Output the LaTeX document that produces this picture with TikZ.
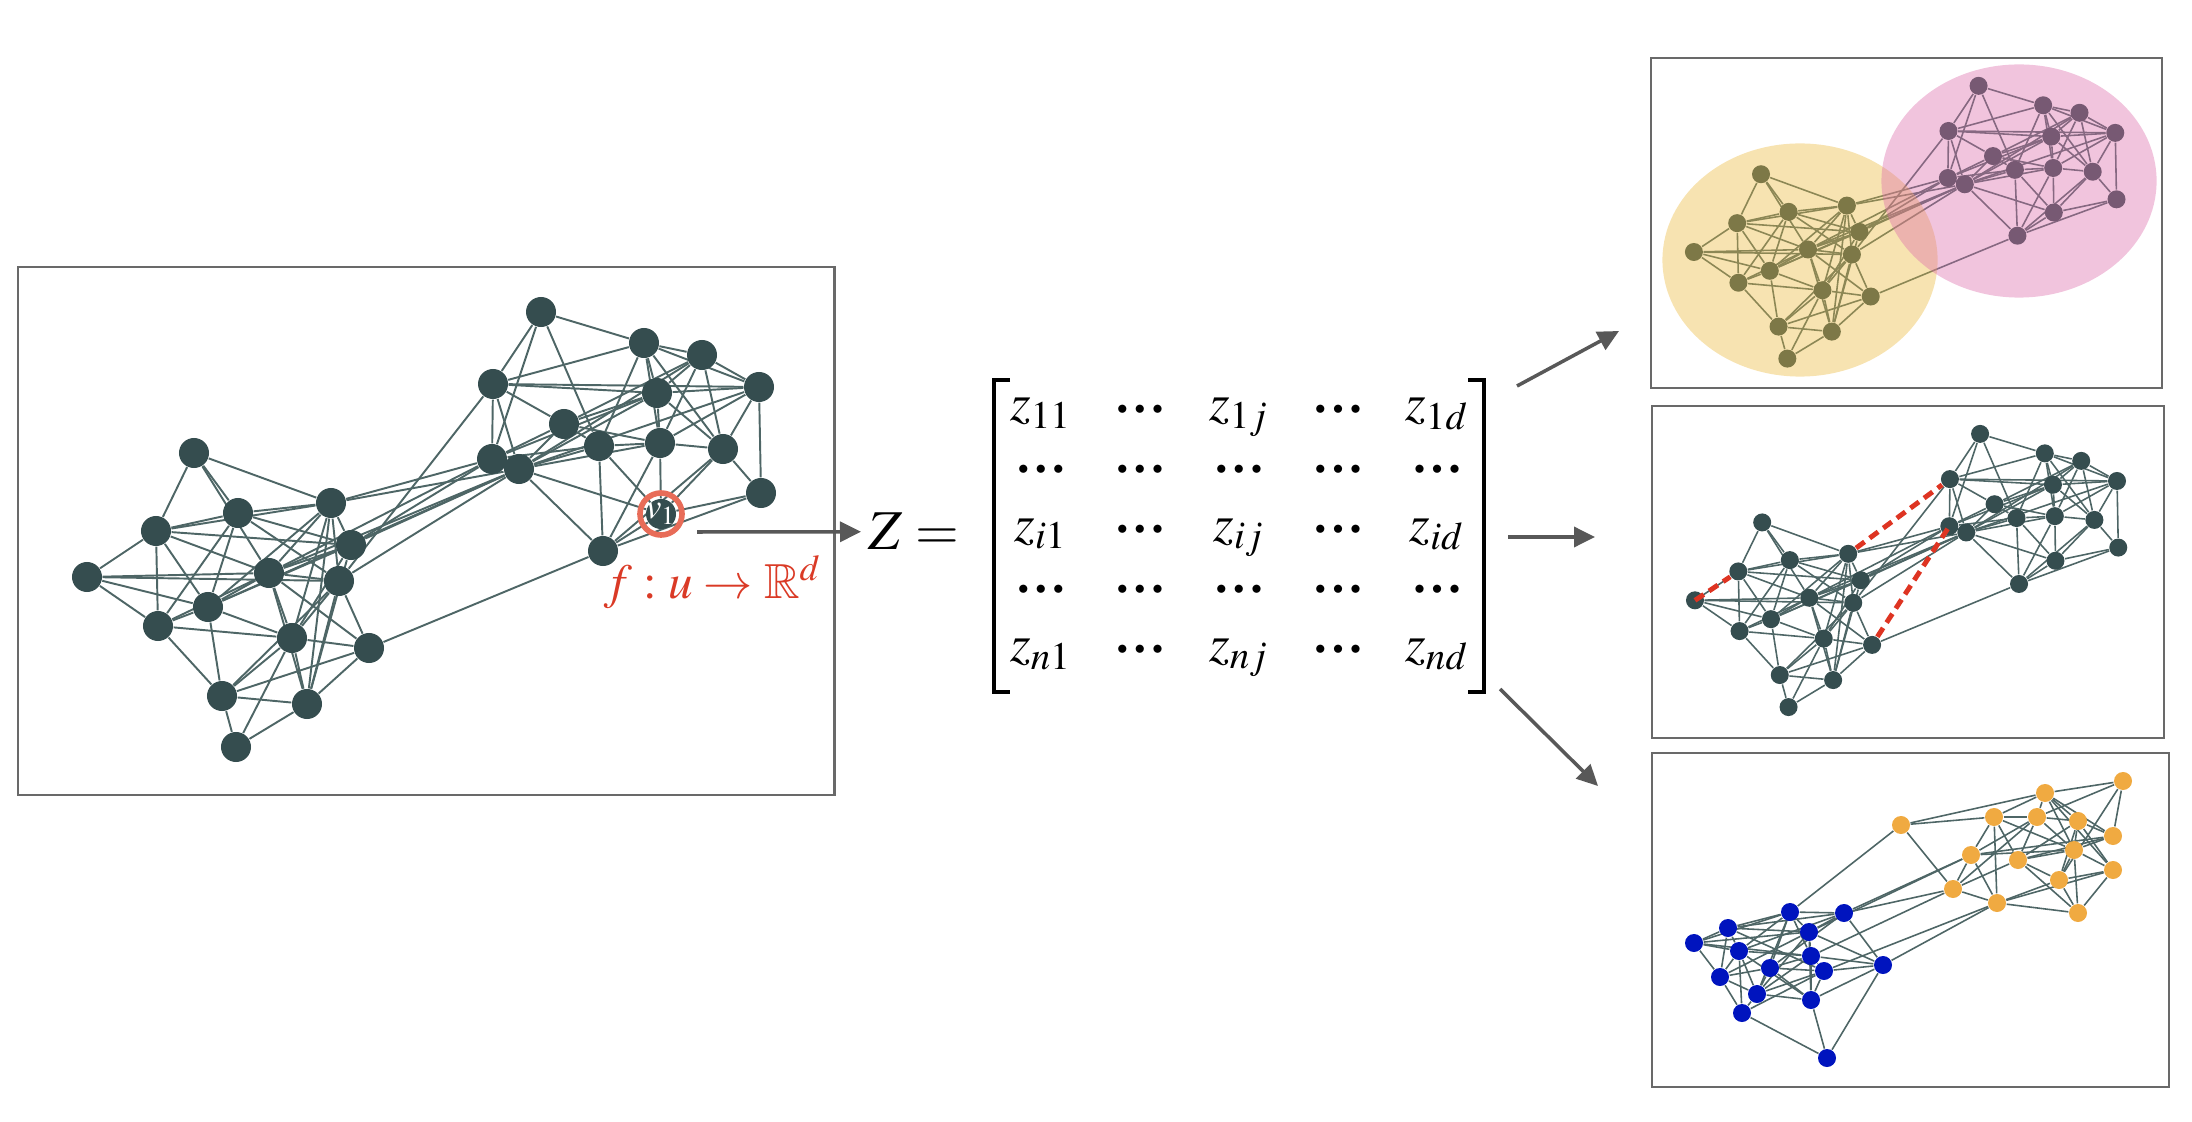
\documentclass[tikz,border=0pt]{standalone}
\usepackage{amssymb}
\usepackage{mathptmx}
\usetikzlibrary{positioning, arrows.meta, matrix, backgrounds}
\usepackage{xcolor}
\definecolor{nodecolor}{RGB}{53, 77, 79}
\definecolor{edgecolor}{RGB}{78, 102, 102}
\definecolor{ringcolor}{RGB}{232, 108, 88}
\definecolor{labelcolor}{RGB}{218, 58, 38}
\definecolor{arrowcolor}{RGB}{88, 88, 88}
\definecolor{framecolor}{RGB}{105, 105, 105}
\definecolor{clusteryellow}{RGB}{235, 185, 60}
\definecolor{clusterpink}{RGB}{220, 108, 170}
\definecolor{dashcolor}{RGB}{222, 52, 34}
\definecolor{commblue}{RGB}{0, 20, 190}
\definecolor{commorange}{RGB}{240, 170, 65}

\newcommand{\rowdots}{\raisebox{1.9pt}{\fontsize{10}{10}\selectfont
  $\scriptscriptstyle\bullet\mkern6mu\bullet\mkern6mu\bullet$}}

% one layout, used in the left panel and in the two upper right panels
\newcommand{\layoutnodes}{1/524/46, 2/627/77, 3/685/89, 4/742/121, 5/476/118,
  6/640/127, 7/547/158, 8/582/180, 9/643/177, 10/706/183, 11/475/193,
  12/502/203, 13/744/227, 14/644/248, 15/586/285, 16/177/187, 17/314/237,
  18/221/247, 19/139/265, 20/334/279, 21/70/311, 22/252/307, 23/322/315,
  24/191/341, 25/141/360, 26/275/372, 27/352/382, 28/205/430, 29/290/438,
  30/219/481}
\newcommand{\layoutedges}{16/19, 16/18, 16/17, 16/22, 19/18, 19/17, 19/20,
  19/21, 19/25, 19/24, 19/22, 21/22, 21/23, 21/24, 21/25, 18/17, 18/20,
  18/25, 18/24, 18/23, 17/20, 17/22, 17/24, 17/26, 17/29, 17/23, 20/22,
  20/24, 20/26, 20/29, 22/23, 22/24, 22/26, 22/27, 22/25, 22/29, 23/26,
  23/27, 23/29, 23/28, 24/25, 24/26, 24/28, 25/26, 25/28, 26/27, 26/28,
  26/29, 26/30, 27/28, 27/29, 28/29, 28/30, 29/30,
  1/5, 1/11, 1/2, 1/8, 2/5, 2/3, 2/4, 2/6, 2/9, 2/10, 2/8, 3/4, 3/6, 3/9,
  3/12, 3/7, 3/10, 4/5, 4/6, 4/9, 4/13, 4/10, 4/12, 5/6, 5/7, 5/11, 5/12,
  6/9, 6/7, 6/12, 6/11, 6/10, 7/8, 7/9, 7/11, 7/12, 8/9, 8/12, 8/11, 8/15,
  8/14, 9/10, 9/14, 9/15, 9/12, 10/13, 10/14, 10/15, 11/12, 12/14, 12/15,
  13/14, 13/15, 14/15,
  17/11, 17/12, 20/12, 20/11, 23/12, 22/11, 24/12, 23/5, 27/15, 22/12}
\newcommand{\drawlayout}[3]{%
  \foreach \i/\x/\y in \layoutnodes {\node[gnode=#2] (#1\i) at (\x,\y) {};}
  \begin{scope}[on background layer]
    \foreach \a/\b in \layoutedges {\draw[gedge=#3] (#1\a) -- (#1\b);}
  \end{scope}}

\begin{document}
\begin{tikzpicture}[x=0.01cm, y=-0.01cm,
    gnode/.style={circle, fill=nodecolor, inner sep=0pt, minimum size=#1},
    gedge/.style={draw=edgecolor, line width=#1},
    panel/.style={draw=framecolor, line width=0.6pt, inner sep=0pt,
                  anchor=north west},
    flow/.style={draw=arrowcolor, line width=1pt,
                 -{Triangle[length=0.21cm, width=0.2cm]}},
    entry/.style={font=\fontsize{15}{15}\selectfont, minimum width=0.99cm,
                  text height=0.36cm, text depth=0.14cm, inner xsep=0pt,
                  inner ysep=0.05cm},
    predlink/.style={draw=dashcolor, line width=1.4pt,
                     dash pattern=on 3pt off 1.8pt}]
  \useasboundingbox (0,0) rectangle (2192,1122);

  % input graph
  \node[panel, minimum width=8.16cm, minimum height=5.28cm] (graphbox)
        at (17,266) {};
  \begin{scope}[shift={(17,266)}]
    \drawlayout{L}{0.30cm}{0.55pt}
  \end{scope}
  \node[circle, draw=ringcolor, line width=1.6pt, minimum size=0.42cm,
        inner sep=0pt, text=white, font=\fontsize{10}{10}\selectfont] (v1)
        at (L14) {$v_1$};
  \node[font=\fontsize{14}{14}\selectfont, text=labelcolor, anchor=base]
        (fmap) at (713,598) {$f:u\rightarrow\mathbb{R}^d$};

  % embedding matrix
  \node[font=\fontsize{16}{16}\selectfont, inner sep=0pt, anchor=base west]
        (Zeq) at (868,550) {$Z=$};
  \matrix (zmat) [matrix of math nodes, nodes={entry}, column sep=0pt,
                  row sep=0pt] at (1239,530) {
    z_{11} & \rowdots & z_{1j} & \rowdots & z_{1d} \\
    \rowdots & \rowdots & \rowdots & \rowdots & \rowdots \\
    z_{i1} & \rowdots & z_{ij} & \rowdots & z_{id} \\
    \rowdots & \rowdots & \rowdots & \rowdots & \rowdots \\
    z_{n1} & \rowdots & z_{nj} & \rowdots & z_{nd} \\
  };
  \draw[line width=1.1pt] (1010,380) -- (994,380) -- (994,692) -- (1010,692);
  \draw[line width=1.1pt] (1468,380) -- (1484,380) -- (1484,692) -- (1468,692);

  \coordinate (fstart) at (697,532);
  \draw[flow, shorten >=0.07cm] (fstart) -- (Zeq.west);

  % node clustering
  \node[panel, minimum width=5.11cm, minimum height=3.30cm] (clusterbox)
        at (1650,57) {};
  \begin{scope}[shift={(1650,57)}, scale=0.627]
    \drawlayout{T}{0.18cm}{0.45pt}
  \end{scope}
  \fill[clusteryellow, fill opacity=0.4] (1800,260)
        ellipse [x radius=1.375cm, y radius=1.165cm];
  \fill[clusterpink, fill opacity=0.4] (2019,181)
        ellipse [x radius=1.375cm, y radius=1.165cm];

  % link prediction
  \node[panel, minimum width=5.12cm, minimum height=3.32cm] (linkbox)
        at (1651,405) {};
  \begin{scope}[shift={(1651,405)}, scale=0.628]
    \drawlayout{M}{0.18cm}{0.45pt}
  \end{scope}
  \draw[predlink] (M21.center) -- (M19);
  \draw[predlink] (M17) -- (M5);
  \draw[predlink] (M27) -- (M11.center);

  % community labels
  \node[panel, minimum width=5.17cm, minimum height=3.34cm] (communitybox)
        at (1651,752) {};
  \foreach \n/\x/\y in {b1/1694/943, b2/1728/928, b3/1790/912, b4/1844/913,
      b5/1809/932, b6/1739/951, b7/1811/956, b8/1770/968, b9/1824/971,
      b10/1720/977, b11/1883/965, b12/1757/994, b13/1811/1000,
      b14/1742/1013, b15/1827/1058}
    \node[gnode=0.18cm, fill=commblue] (\n) at (\x,\y) {};
  \foreach \n/\x/\y in {o1/1901/825, o2/1994/817, o3/2045/793, o4/2123/781,
      o5/2037/817, o6/2078/821, o7/2113/836, o8/1971/855, o9/2018/860,
      o10/2074/850, o11/2113/870, o12/2059/880, o13/1953/889, o14/1997/903,
      o15/2078/913}
    \node[gnode=0.18cm, fill=commorange] (\n) at (\x,\y) {};
  \begin{scope}[on background layer]
    \foreach \a/\b in {b1/b2, b1/b3, b1/b6, b1/b10, b1/b5, b1/b7, b2/b3,
        b2/b5, b2/b6, b2/b10, b2/b4, b2/b9, b3/b4, b3/b5, b3/b6, b3/b7,
        b3/b8, b3/b12, b4/b5, b4/b6, b4/b11, b4/b8, b5/b7, b5/b10, b5/b12,
        b5/b13, b6/b7, b6/b10, b6/b12, b6/b14, b6/b13, b7/b8, b7/b9, b7/b13,
        b7/b12, b7/b11, b8/b9, b8/b10, b8/b13, b8/b12, b9/b11, b9/b13,
        b9/b12, b9/b14, b10/b12, b10/b14, b12/b13, b12/b14, b13/b15,
        b14/b15, b11/b15, b11/b13, b11/b5,
        o1/o2, o1/o3, o1/o13, o2/o3, o2/o5, o2/o8, o2/o14, o2/o9, o2/o10,
        o3/o4, o3/o5, o3/o6, o3/o10, o3/o11, o3/o7, o4/o5, o4/o12, o4/o7,
        o5/o6, o5/o8, o5/o9, o5/o10, o5/o13, o6/o7, o6/o10, o6/o12, o6/o11,
        o6/o9, o7/o8, o7/o9, o7/o10, o8/o13, o8/o14, o8/o10, o9/o10, o9/o12,
        o9/o15, o9/o13, o10/o11, o10/o12, o10/o15, o11/o12, o11/o15,
        o11/o14, o12/o14, o12/o15, o13/o14, o14/o15,
        o1/b3, o8/b4, o13/b4, o13/b7, o14/b9, o14/b11, o8/b5}
      \draw[gedge=0.45pt] (\a) -- (\b);
  \end{scope}

  % tasks
  \coordinate (top-s) at (1517,386);
  \coordinate (top-e) at (1619,331);
  \coordinate (mid-s) at (1508,537);
  \coordinate (mid-e) at (1595,537);
  \coordinate (bot-s) at (1500,689);
  \coordinate (bot-e) at (1598,786);
  \draw[flow] (top-s) -- (top-e);
  \draw[flow] (mid-s) -- (mid-e);
  \draw[flow] (bot-s) -- (bot-e);
\end{tikzpicture}
\end{document}
